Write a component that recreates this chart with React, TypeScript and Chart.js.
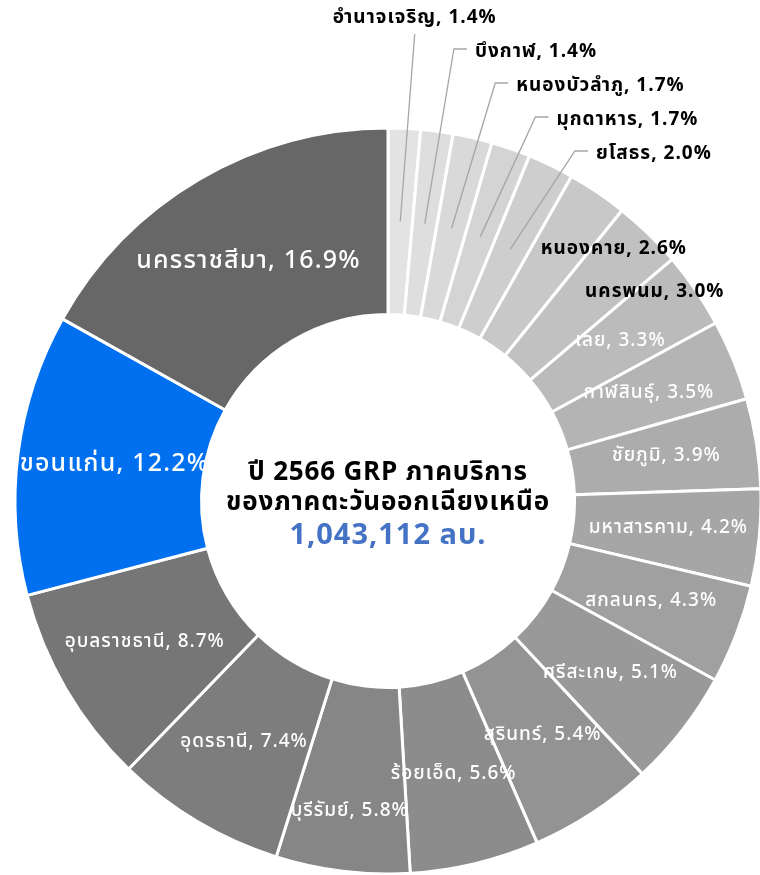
import React, { useEffect, useRef } from "react";
import { Chart, registerables } from "chart.js";

Chart.register(...registerables);

const provinces = [
  "อำนาจเจริญ", "บึงกาฬ", "หนองบัวลำภู", "มุกดาหาร", "ยโสธร",
  "หนองคาย", "นครพนม", "เลย", "กาฬสินธุ์", "ชัยภูมิ",
  "มหาสารคาม", "สกลนคร", "ศรีสะเกษ", "สุรินทร์", "ร้อยเอ็ด",
  "บุรีรัมย์", "อุดรธานี", "อุบลราชธานี", "ขอนแก่น", "นครราชสีมา",
];
const shares = [
  1.4, 1.4, 1.7, 1.7, 2.0,
  2.6, 3.0, 3.3, 3.5, 3.9,
  4.2, 4.3, 5.1, 5.4, 5.6,
  5.8, 7.4, 8.7, 12.2, 16.9,
];
const sliceColors = [
  "#e3e3e3", "#dedede", "#d9d9d9", "#d4d4d4", "#cecece",
  "#c8c8c8", "#c1c1c1", "#bbbbbb", "#b4b4b4", "#acacac",
  "#a6a6a6", "#a0a0a0", "#999999", "#939393", "#8c8c8c",
  "#868686", "#7d7d7d", "#767676", "#0070f0", "#676767",
];
const titleLines = ["ปี 2566 GRP ภาคบริการ", "ของภาคตะวันออกเฉียงเหนือ"];
const totalLabel = "1,043,112 ลบ.";

const FONT = '"Noto Sans Thai", "Noto Sans", sans-serif';

function setSpacing(ctx: any, px: number) {
  if ("letterSpacing" in ctx) ctx.letterSpacing = `${px}px`;
}

type Box = { x0: number; x1: number; y0: number; y1: number };
const overlaps = (a: Box, b: Box) => a.x0 < b.x1 && b.x0 < a.x1 && a.y0 < b.y1 && b.y0 < a.y1;

const labelPlugin = {
  id: "sliceLabels",
  afterDatasetsDraw(chart: any) {
    const ctx = chart.ctx as CanvasRenderingContext2D;
    const meta = chart.getDatasetMeta(0);
    let outsideIdx = 0;
    const placed: Box[] = [];
    ctx.save();
    meta.data.forEach((el: any, i: number) => {
      const { x, y, startAngle, endAngle, innerRadius, outerRadius } = el.getProps(
        ["x", "y", "startAngle", "endAngle", "innerRadius", "outerRadius"],
        true
      );
      const mid = (startAngle + endAngle) / 2;
      const theta = mid + Math.PI / 2; // clockwise from top
      const rMid = (innerRadius + outerRadius) / 2;
      const v = shares[i];
      const text = `${provinces[i]}, ${v.toFixed(1)}%`;
      ctx.textBaseline = "middle";
      if (v < 2.5) {
        const k = outsideIdx++;
        const sx = x + Math.cos(mid) * rMid;
        const sy = y + Math.sin(mid) * rMid;
        const ly = y - outerRadius - 109 + k * 34;
        ctx.strokeStyle = "#a6a6a6";
        ctx.lineWidth = 1.3;
        ctx.font = `bold 19px ${FONT}`;
        setSpacing(ctx, 1);
        ctx.fillStyle = "#000";
        if (k === 0) {
          const ey = ly + 15;
          const ex = x + (y - ey) * Math.tan(theta) * 1.3;
          ctx.beginPath();
          ctx.moveTo(sx, sy);
          ctx.lineTo(ex, ey);
          ctx.stroke();
          ctx.textAlign = "center";
          ctx.fillText(text, ex, ly);
        } else {
          const ey = ly - 4;
          const ex = x + (y - ey) * Math.tan(theta) * 1.1;
          ctx.beginPath();
          ctx.moveTo(sx, sy);
          ctx.lineTo(ex, ey);
          ctx.lineTo(ex + 13, ey);
          ctx.stroke();
          ctx.textAlign = "left";
          ctx.fillText(text, ex + 21, ly);
        }
      } else if (v < 3.2) {
        const t = theta + (7 * Math.PI) / 180;
        const r = outerRadius - 36;
        ctx.font = `bold 19px ${FONT}`;
        setSpacing(ctx, 1);
        ctx.fillStyle = "#000";
        ctx.textAlign = "center";
        ctx.fillText(text, x + Math.sin(t) * r + 4, y - Math.cos(t) * r + 3);
      } else {
        const big = v >= 10;
        let r = rMid + (big ? -4 : 2);
        ctx.font = `500 ${big ? 25 : 19}px ${FONT}`;
        setSpacing(ctx, big ? 1.2 : 1);
        ctx.fillStyle = "#ffffff";
        ctx.textAlign = "center";
        const w = ctx.measureText(text).width;
        const h = big ? 30 : 36;
        let px = 0;
        let py = 0;
        for (let step = 0; step < 14; step++) {
          px = x + Math.sin(theta) * r;
          py = y - Math.cos(theta) * r;
          const box = { x0: px - w / 2, x1: px + w / 2, y0: py - h / 2, y1: py + h / 2 };
          if (!placed.some((b) => overlaps(b, box))) break;
          r += 4;
        }
        placed.push({ x0: px - w / 2, x1: px + w / 2, y0: py - h / 2, y1: py + h / 2 });
        ctx.fillText(text, px, py);
      }
    });
    // centre text
    const el0 = meta.data[0];
    if (el0) {
      const cx = el0.x;
      const cy = el0.y;
      ctx.textAlign = "center";
      ctx.textBaseline = "middle";
      ctx.fillStyle = "#000";
      ctx.font = `bold 26px ${FONT}`;
      setSpacing(ctx, 0.8);
      ctx.fillText(titleLines[0], cx, cy - 26);
      ctx.fillText(titleLines[1], cx, cy + 4);
      ctx.fillStyle = "#4472c4";
      ctx.font = `bold 29px ${FONT}`;
      setSpacing(ctx, 1);
      ctx.fillText(totalLabel, cx, cy + 37);
    }
    ctx.restore();
  },
};

export default function App() {
  const ref = useRef<HTMLCanvasElement>(null);
  useEffect(() => {
    if (!ref.current) return;
    const chart = new Chart(ref.current, {
      type: "doughnut",
      data: {
        labels: provinces,
        datasets: [
          {
            data: shares,
            backgroundColor: sliceColors,
            borderColor: "#ffffff",
            borderWidth: 3,
            clip: false as any,
          },
        ],
      },
      options: {
        responsive: false,
        animation: false,
        radius: 373,
        cutout: "50%",
        layout: { padding: { left: 16, right: 0, top: 127, bottom: 0 } },
        plugins: {
          legend: { display: false },
          tooltip: { enabled: false },
        },
      } as any,
      plugins: [labelPlugin],
    });
    return () => chart.destroy();
  }, []);
  return (
    <div style={{ position: "absolute", left: 0, top: 0, width: 760, height: 875, overflow: "hidden" }}>
      <canvas ref={ref} width={760} height={875} style={{ width: 760, height: 875, display: "block" }} />
    </div>
  );
}
